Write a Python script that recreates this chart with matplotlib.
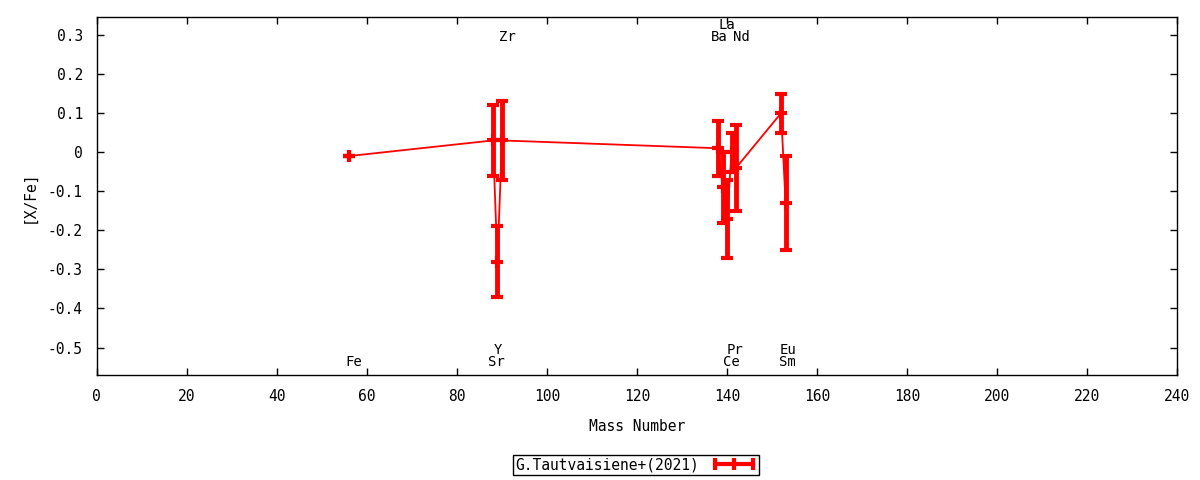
import matplotlib
matplotlib.use("Agg")
import matplotlib.pyplot as plt
from matplotlib.lines import Line2D

# abundance data (mass number, [X/Fe], error)
elements = ["Fe", "Sr", "Y", "Zr", "Ba", "La", "Ce", "Pr", "Nd", "Sm", "Eu"]
mass = [56, 88, 89, 90, 138, 139, 140, 141, 142, 152, 153]
xfe = [-0.01, 0.03, -0.28, 0.03, 0.01, -0.09, -0.17, 0.00, -0.04, 0.10, -0.13]
err = [0.0, 0.09, 0.09, 0.10, 0.07, 0.09, 0.10, 0.05, 0.11, 0.05, 0.12]
series_label = "G.Tautvaisiene+(2021)"

# element name annotations (x, y in data units)
label_x = [57.1, 88.7, 89.0, 91.1, 138.3, 140.0, 141.0, 141.8, 143.2, 153.3, 153.6]
label_y = [-0.536, -0.536, -0.506, 0.295, 0.295, 0.326, -0.536, -0.506, 0.295, -0.536, -0.506]

xticks = list(range(0, 241, 20))
yticks = [-0.5, -0.4, -0.3, -0.2, -0.1, 0, 0.1, 0.2, 0.3]
ytick_labels = ["-0.5", "-0.4", "-0.3", "-0.2", "-0.1", "0", "0.1", "0.2", "0.3"]

plt.rcParams["font.family"] = ["DejaVu Sans Mono"]
plt.rcParams["font.size"] = 10

fig = plt.figure(figsize=(12, 4.8), dpi=100)
ax = fig.add_axes([0.0806, 0.2181, 0.9005, 0.7458])

ax.errorbar(mass, xfe, yerr=err, color="red", lw=1.3, elinewidth=3.5,
            capsize=4, capthick=3, marker="+", ms=9, mew=3)

for name, lx, ly in zip(elements, label_x, label_y):
    ax.text(lx, ly, name, ha="center", va="center", fontsize=10)

ax.set_xlim(0, 240)
ax.set_ylim(-0.571, 0.345)
ax.set_xticks(xticks)
ax.set_yticks(yticks)
ax.set_yticklabels(ytick_labels)
ax.tick_params(direction="in", length=5, width=1, top=True, right=True,
               labelsize=10.5, pad=10)
for s in ax.spines.values():
    s.set_linewidth(1)

ax.set_xlabel("Mass Number", fontsize=10.5, labelpad=11)
ax.set_ylabel("[X/Fe]", fontsize=10.5, labelpad=8)

# gnuplot style key sample: horizontal bar with end and middle ticks
handle = Line2D([0, 1], [0, 0], color="red", lw=3, marker="|", ms=9, mew=3)
leg = fig.legend([handle], [series_label], loc="center",
                 bbox_to_anchor=(636 / 1200, 1 - 465 / 480),
                 markerfirst=False, fancybox=False, edgecolor="black",
                 framealpha=1, fontsize=10.5, borderpad=0.15, numpoints=3,
                 handlelength=3.2, handletextpad=0.8, borderaxespad=0)
leg.get_frame().set_linewidth(1)

fig.savefig("out.png", dpi=100)
